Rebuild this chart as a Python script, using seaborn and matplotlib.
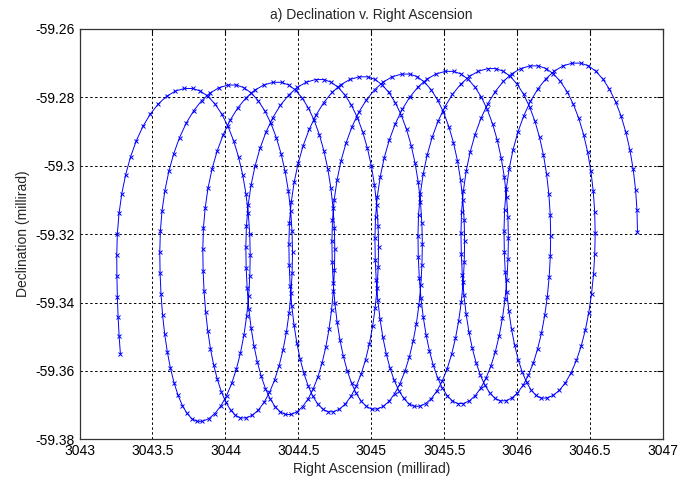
import numpy as np
import pandas as pd
import matplotlib
matplotlib.use("Agg")
import matplotlib.pyplot as plt
import seaborn as sns

# Trajectory turning points, read loop by loop (millirad)
start_ra, start_dec = 3043.28, -59.355
left_ra = [3043.255, 3043.55, 3043.845, 3044.14, 3044.435, 3044.73, 3045.025, 3045.32, 3045.615, 3045.91]
left_dec = [-59.3261, -59.3253, -59.3245, -59.3237, -59.3229, -59.3221, -59.3213, -59.3205, -59.3197, -59.3190]
top_ra = [3043.75, 3044.05, 3044.36, 3044.65, 3044.95, 3045.24, 3045.54, 3045.83, 3046.12, 3046.41]
top_dec = [-59.2774, -59.2764, -59.2756, -59.2748, -59.2740, -59.2732, -59.2724, -59.2716, -59.2708, -59.2700]
right_ra = [3044.17, 3044.46, 3044.75, 3045.05, 3045.35, 3045.64, 3045.94, 3046.23, 3046.535, 3046.825]
right_dec = [-59.3261, -59.3253, -59.3245, -59.3237, -59.3229, -59.3221, -59.3213, -59.3205, -59.3197, -59.3193]
bottom_ra = [3043.82, 3044.12, 3044.43, 3044.72, 3045.02, 3045.31, 3045.61, 3045.90, 3046.18]
bottom_dec = [-59.3748, -59.3738, -59.3728, -59.3720, -59.3712, -59.3704, -59.3696, -59.3688, -59.3680]
samples_per_turn = 50

x_ticks = [3043, 3043.5, 3044, 3044.5, 3045, 3045.5, 3046, 3046.5, 3047]
y_ticks = [-59.38, -59.36, -59.34, -59.32, -59.30, -59.28, -59.26]


def quarter_arc(a, b, a_is_side, phi):
    """Elliptic quarter arc between two turning points."""
    if a_is_side:
        x = b[0] + (a[0] - b[0]) * np.cos(phi)
        y = a[1] + (b[1] - a[1]) * np.sin(phi)
    else:
        x = a[0] + (b[0] - a[0]) * np.sin(phi)
        y = b[1] + (a[1] - b[1]) * np.cos(phi)
    return x, y


# ordered turning points: L1 T1 R1 B1 L2 ... L10 T10 R10
keys, side = [], []
for i in range(len(left_ra)):
    keys += [(left_ra[i], left_dec[i]), (top_ra[i], top_dec[i]), (right_ra[i], right_dec[i])]
    side += [True, False, True]
    if i < len(bottom_ra):
        keys.append((bottom_ra[i], bottom_dec[i]))
        side.append(False)

step = 4.0 / samples_per_turn          # quarter-turn units per sample
n_quarters = len(keys) - 1

xs, ys = [], []
# lead-in from the first recorded sample up to the first leftmost point
L1 = keys[0]
n_lead = 5
phi_s = np.pi / 2 - n_lead * step * np.pi / 2
by = L1[1] + (start_dec - L1[1]) / np.cos(phi_s)
bx = L1[0] + (start_ra - L1[0]) / (1 - np.sin(phi_s))
for k in range(n_lead, 0, -1):
    phi = np.pi / 2 - k * step * np.pi / 2
    x, y = quarter_arc((bx, by), L1, False, phi)
    xs.append(x); ys.append(y)

n_samples = int(round(n_quarters / step))
for k in range(n_samples + 1):
    t = k * step
    q = min(int(np.floor(t + 1e-9)), n_quarters - 1)
    phi = (t - q) * np.pi / 2
    x, y = quarter_arc(keys[q], keys[q + 1], side[q], phi)
    xs.append(x); ys.append(y)

df = pd.DataFrame({"ra": xs, "dec": ys, "order": np.arange(len(xs))})

sns.set_style("white")
plt.rcParams["font.family"] = ["Liberation Sans", "DejaVu Sans"]

fig = plt.figure(figsize=(6.8, 4.84), dpi=100)
ax = fig.add_axes([0.117, 0.092, 0.858, 0.849])

sns.lineplot(data=df, x="ra", y="dec", sort=False, estimator=None, ax=ax,
             color="#0000ff", linewidth=0.7, marker="x", markersize=3.4,
             markeredgewidth=0.7, markeredgecolor="#0000ff")

ax.set_xlim(3043, 3047)
ax.set_ylim(-59.38, -59.26)
ax.set_xticks(x_ticks)
ax.set_yticks(y_ticks)
ax.set_xticklabels([f"{v:g}" for v in x_ticks])
ax.set_yticklabels([f"{v:g}" for v in y_ticks])
ax.grid(True, color="black", linestyle=(0, (2.5, 2.5)), linewidth=0.7)
for s in ax.spines.values():
    s.set_color("#333333")
    s.set_linewidth(0.9)
ax.tick_params(direction="in", length=4, labelsize=10, top=True, right=True,
               colors="black")
ax.set_title("a) Declination v. Right Ascension", fontsize=10, pad=7)
ax.set_xlabel("Right Ascension (millirad)", fontsize=10, labelpad=3)
ax.set_ylabel("Declination (millirad)", fontsize=10, labelpad=4)

fig.savefig("out.png", dpi=100)
